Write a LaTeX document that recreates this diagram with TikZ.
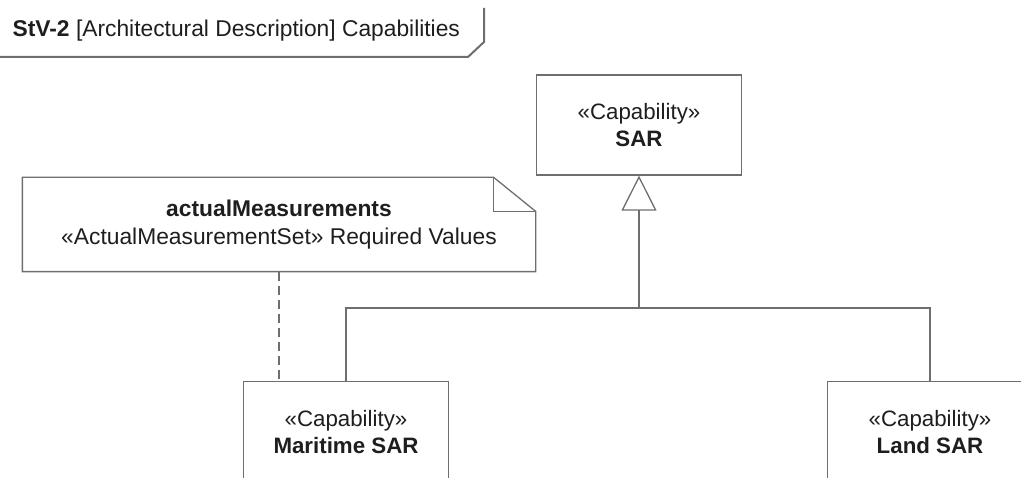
\documentclass[tikz,border=0pt]{standalone}
\usepackage{fontspec}
\setmainfont{Liberation Sans}
\usetikzlibrary{arrows.meta, positioning, calc}
\definecolor{lngray}{HTML}{6E6E6E}
\definecolor{txdark}{HTML}{1E1E1E}

\begin{document}
\begin{tikzpicture}[x=1pt, y=-1pt, line width=1.3pt,
  capbox/.style={draw=lngray, fill=white, minimum width=205pt, minimum height=100pt,
    align=center, text=txdark, font=\fontsize{22.3}{27}\selectfont, inner sep=0pt},
  notebox/.style={minimum width=512pt, minimum height=93pt, align=center,
    text=txdark, font=\fontsize{22.8}{28}\selectfont, inner sep=0pt}]

% Canvas
\useasboundingbox (0,0) rectangle (1021,478);
\clip (0,0) rectangle (1021,478);

% Frame header
\draw[lngray, line width=2pt] (0,57) -- (468,57) -- (484,42) -- (484,8);
\node[anchor=base west, inner sep=0pt, text=txdark, font=\fontsize{22.8}{26}\selectfont] (title) at (12,37)
  {\textbf{StV-2} [Architectural Description] Capabilities};

% Capabilities
\node[capbox] (sar) at (639,125) {«Capability»\\\textbf{SAR}};
\node[capbox, anchor=north] (maritime) at (346,381) {«Capability»\\\textbf{Maritime SAR}};
\node[capbox, anchor=north] (land) at (930,381) {«Capability»\\\textbf{Land SAR}};

% Note with folded corner
\node[notebox] (note) at (279,224.5)
  {\textbf{actualMeasurements}\\«ActualMeasurementSet» Required Values};
\draw[lngray] (note.north west) -- ([xshift=-42pt]note.north east)
  -- ([yshift=-34pt]note.north east) -- (note.south east) -- (note.south west) -- cycle;
\draw[lngray] ([xshift=-42pt]note.north east) |- ([yshift=-34pt]note.north east);

% Anchor line from note
\draw[lngray, dash pattern=on 9pt off 5pt] (note.south) -- (note.south |- maritime.north);

% Generalization tree
\coordinate (join) at (639,308);
\draw[lngray] (maritime.north) |- (join);
\draw[lngray] (land.north) |- (join);
\draw[lngray, -{Triangle[open, length=35pt, width=35pt]}] (join) -- (sar.south);

\end{tikzpicture}
\end{document}
